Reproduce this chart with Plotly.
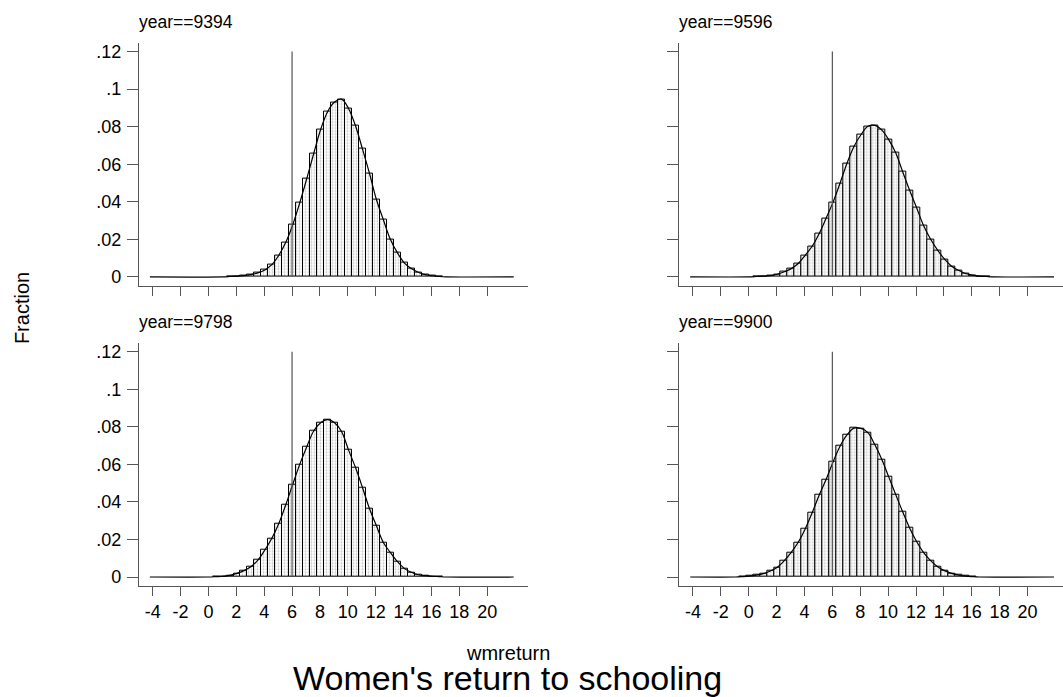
import plotly.graph_objects as go

# ---------------- data ----------------
years = ["9394", "9596", "9798", "9900"]
bin_width = 0.5
first_center = {"9394": 1.55, "9596": 0.55, "9798": 0.55, "9900": -0.45}

frac_9394 = [0.0002, 0.0004, 0.0007, 0.0012, 0.0021, 0.0037, 0.0065, 0.0115, 0.0184, 0.0278,
             0.0394, 0.0522, 0.0656, 0.0785, 0.0880, 0.0931, 0.0947, 0.0897, 0.0805, 0.0681,
             0.0552, 0.0412, 0.0304, 0.0200, 0.0129, 0.0075, 0.0044, 0.0025, 0.0012, 0.0006,
             0.0002]
frac_9596 = [0.0002, 0.0004, 0.0007, 0.0014, 0.0027, 0.0044, 0.0071, 0.0115, 0.0163, 0.0230,
             0.0312, 0.0398, 0.0499, 0.0605, 0.0694, 0.0757, 0.0802, 0.0807, 0.0782, 0.0730,
             0.0660, 0.0559, 0.0460, 0.0367, 0.0272, 0.0200, 0.0142, 0.0094, 0.0057, 0.0035,
             0.0018, 0.0009, 0.0004, 0.0002]
frac_9798 = [0.0002, 0.0004, 0.0009, 0.0019, 0.0034, 0.0055, 0.0090, 0.0144, 0.0206, 0.0285,
             0.0385, 0.0494, 0.0600, 0.0693, 0.0778, 0.0822, 0.0838, 0.0822, 0.0775, 0.0677,
             0.0583, 0.0477, 0.0365, 0.0273, 0.0184, 0.0131, 0.0083, 0.0046, 0.0025, 0.0012,
             0.0007, 0.0004, 0.0002]
frac_9900 = [0.0002, 0.0005, 0.0010, 0.0018, 0.0032, 0.0052, 0.0087, 0.0131, 0.0185, 0.0256,
             0.0342, 0.0436, 0.0519, 0.0613, 0.0697, 0.0757, 0.0793, 0.0792, 0.0769, 0.0704,
             0.0626, 0.0532, 0.0438, 0.0346, 0.0260, 0.0188, 0.0130, 0.0087, 0.0055, 0.0034,
             0.0019, 0.0010, 0.0005, 0.0002]
fractions = {"9394": frac_9394, "9596": frac_9596, "9798": frac_9798, "9900": frac_9900}

data_range = [-4.2, 21.9]          # range of wmreturn (curve drawn over it)
cutoff_x = 6                       # reference line
cutoff_top = 0.12

x_ticks = list(range(-4, 21, 2))
x_tick_text = [str(v) for v in x_ticks]
y_ticks = [0, 0.02, 0.04, 0.06, 0.08, 0.1, 0.12]
y_tick_text = ["0", ".02", ".04", ".06", ".08", ".1", ".12"]

# ---------------- layout geometry (pixels) ----------------
W, H = 1063, 697
FONT = "Liberation Sans, Arial, Helvetica, sans-serif"
AXC = "#555555"

panels = [  # (year, x0px, x1px, ytop_px, ybot_px, show_x_labels, show_y_labels)
    ("9394", 139.0, 528.0, 41.7, 285.7, False, True),
    ("9596", 679.3, 1063.0, 41.7, 285.7, False, False),
    ("9798", 139.0, 528.0, 342.7, 586.7, True, True),
    ("9900", 679.3, 1063.0, 342.7, 586.7, True, False),
]
px_per_unit = 13.94
x_left_val = -4.98
y_range = [-0.0048, 0.1248]

fig = go.Figure()
layout_axes = {}
annotations = []

for i, (yr, x0, x1, yt, yb, showx, showy) in enumerate(panels):
    n = i + 1
    xa = "x" if n == 1 else f"x{n}"
    ya = "y" if n == 1 else f"y{n}"
    vals = fractions[yr]
    centers = [first_center[yr] + bin_width * k for k in range(len(vals))]

    fig.add_trace(go.Bar(
        x=centers, y=vals, width=bin_width, xaxis=xa, yaxis=ya,
        marker=dict(color="white",
                    line=dict(color="black", width=1),
                    pattern=dict(shape=".", fgcolor="#8a8a8a", bgcolor="white",
                                 size=3, solidity=0.3)),
        showlegend=False, hoverinfo="skip"))

    cx = [data_range[0], centers[0] - bin_width] + centers + [centers[-1] + bin_width, data_range[1]]
    cy = [0, 0] + vals + [0, 0]
    fig.add_trace(go.Scatter(
        x=cx, y=cy, mode="lines", line=dict(color="black", width=1.2, shape="spline", smoothing=1.0),
        xaxis=xa, yaxis=ya, showlegend=False, hoverinfo="skip"))

    fig.add_trace(go.Scatter(
        x=[cutoff_x, cutoff_x], y=[0, cutoff_top], mode="lines",
        line=dict(color="#555555", width=1.2),
        xaxis=xa, yaxis=ya, showlegend=False, hoverinfo="skip"))

    xkey = "xaxis" if n == 1 else f"xaxis{n}"
    ykey = "yaxis" if n == 1 else f"yaxis{n}"
    layout_axes[xkey] = dict(
        domain=[x0 / W, x1 / W],
        range=[x_left_val, x_left_val + (x1 - x0) / px_per_unit],
        anchor=ya, showline=True, linecolor=AXC, linewidth=1.3,
        ticks="outside", ticklen=9, tickwidth=1.3, tickcolor=AXC,
        tickvals=x_ticks, ticktext=x_tick_text, showticklabels=showx,
        tickfont=dict(family=FONT, size=18, color="black"),
        showgrid=False, zeroline=False, fixedrange=True)
    layout_axes[ykey] = dict(
        domain=[1 - yb / H, 1 - yt / H],
        range=y_range, anchor=xa, showline=True, linecolor=AXC, linewidth=1.3,
        ticks="outside", ticklen=11, tickwidth=1.3, tickcolor=AXC,
        tickvals=y_ticks, ticktext=y_tick_text, showticklabels=showy,
        ticklabelstandoff=2,
        tickfont=dict(family=FONT, size=18, color="black"),
        showgrid=False, zeroline=False, fixedrange=True)

    annotations.append(dict(
        text=f"year=={yr}", xref="paper", yref="paper",
        x=x0 / W, y=1 - (yt - 21) / H, xanchor="left", yanchor="middle",
        xshift=-2, showarrow=False, font=dict(family=FONT, size=17.5, color="black")))

annotations += [
    dict(text="Fraction", xref="paper", yref="paper", x=22 / W, y=1 - 308 / H,
         textangle=-90, xanchor="center", yanchor="middle", showarrow=False,
         font=dict(family=FONT, size=20, color="black")),
    dict(text="wmreturn", xref="paper", yref="paper", x=508 / W, y=1 - 654 / H,
         xanchor="center", yanchor="middle", showarrow=False,
         font=dict(family=FONT, size=20, color="black")),
    dict(text="Women's return to schooling", xref="paper", yref="paper", x=507 / W, y=0,
         xanchor="center", yanchor="bottom", yshift=-3, showarrow=False,
         font=dict(family=FONT, size=34, color="black")),
]

fig.update_layout(
    width=W, height=H, margin=dict(l=0, r=0, t=0, b=0),
    paper_bgcolor="white", plot_bgcolor="white",
    bargap=0, annotations=annotations, **layout_axes)

fig.write_html("out.html", config={"displayModeBar": False})
